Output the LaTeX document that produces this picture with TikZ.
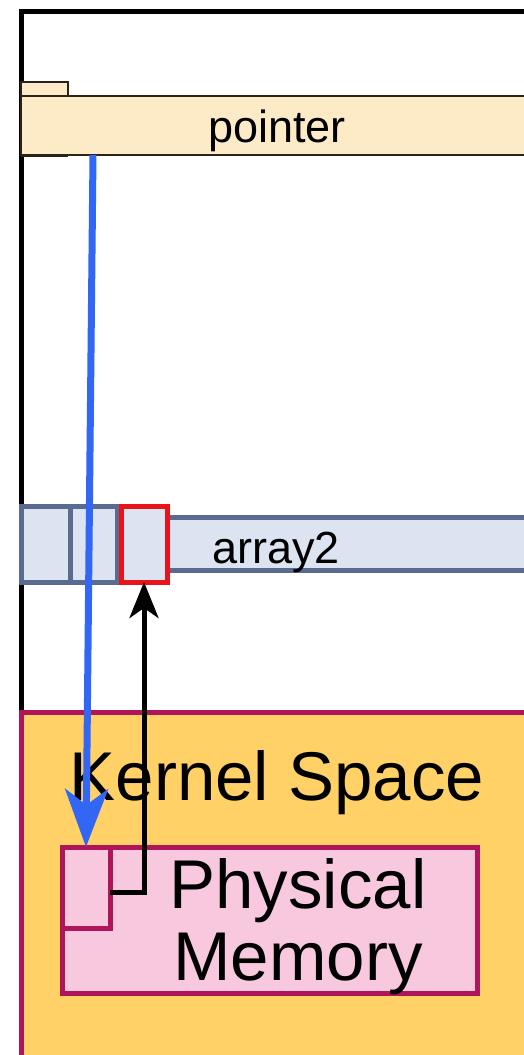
\documentclass[tikz,border=0pt]{standalone}
\usepackage{fontspec}
\setmainfont{Liberation Sans}
\usetikzlibrary{arrows.meta}
\definecolor{ptrfill}{HTML}{FDEBC8}
\definecolor{ptrdraw}{HTML}{2A2418}
\definecolor{arrfill}{HTML}{DCE4F2}
\definecolor{arrdraw}{HTML}{5B6B8F}
\definecolor{redbox}{HTML}{E8141A}
\definecolor{kfill}{HTML}{FFD166}
\definecolor{kdraw}{HTML}{B0155A}
\definecolor{pmfill}{HTML}{F8C8DE}
\definecolor{bluearr}{HTML}{3266F5}
\begin{document}
\begin{tikzpicture}[x=1pt,y=-1pt,
  box/.style={rectangle,inner sep=0pt,outer sep=0pt,anchor=north west},
  ptrbox/.style={box,fill=ptrfill,draw=ptrdraw,line width=2pt},
  arrbox/.style={box,fill=arrfill,draw=arrdraw,line width=5pt},
  kbox/.style={box,fill=kfill,draw=kdraw,line width=5pt},
  pmbox/.style={box,fill=pmfill,draw=kdraw,line width=5pt},
  lbl/.style={inner sep=0pt,font=\fontsize{45}{54}\selectfont},
  biglbl/.style={inner sep=0pt,align=center,font=\fontsize{69}{72}\selectfont}]
\useasboundingbox (0,0) rectangle (524,1055);
\fill[white] (0,0) rectangle (524,1055);
% outer frame
\draw[line width=5pt] (21,712) -- (21,11) -- (530,11);
% pointer
\node[ptrbox,minimum width=47pt,minimum height=14pt] (tab) at (21,82) {};
\node[ptrbox,minimum width=520pt,minimum height=59pt] (ptr) at (21,96) {};
\draw[ptrdraw,line width=3pt] (21,155) -- (68,155);
\node[lbl] (ptrlbl) at (277,131) {pointer};
% array2
\node[arrbox,minimum width=520pt,minimum height=53pt] (arr) at (21,517) {};
\node[arrbox,minimum width=49pt,minimum height=76pt] (a1) at (21,506) {};
\node[arrbox,minimum width=47pt,minimum height=76pt] (a2) at (70,506) {};
\node[box,fill=arrfill,draw=redbox,line width=5pt,minimum width=46pt,minimum height=76pt] (a3) at (121,506) {};
\node[lbl] (arrlbl) at (276,552) {array2};
% kernel space
\node[kbox,minimum width=520pt,minimum height=360pt] (kern) at (21,712) {};
\node[biglbl] (klbl) at (277,783) {Kernel Space};
\node[pmbox,minimum width=415pt,minimum height=146pt] (pm) at (62,847) {};
\node[pmbox,minimum width=48pt,minimum height=81pt] (pm1) at (62,847) {};
\node[biglbl] (pmlbl) at (298,927) {Physical\\Memory};
% arrows
\coordinate (bstart) at (93,155);
\draw[bluearr,line width=7pt,-{Stealth[length=58pt,width=43pt,inset=16pt]}] (bstart) -- (pm1.north);
\coordinate (corner) at (144,892);
\draw[line width=5pt,-{Stealth[length=36pt,width=29pt,inset=10pt]}] (pm1.east |- corner) -- (corner) -- (corner |- a3.south);
\end{tikzpicture}
\end{document}
